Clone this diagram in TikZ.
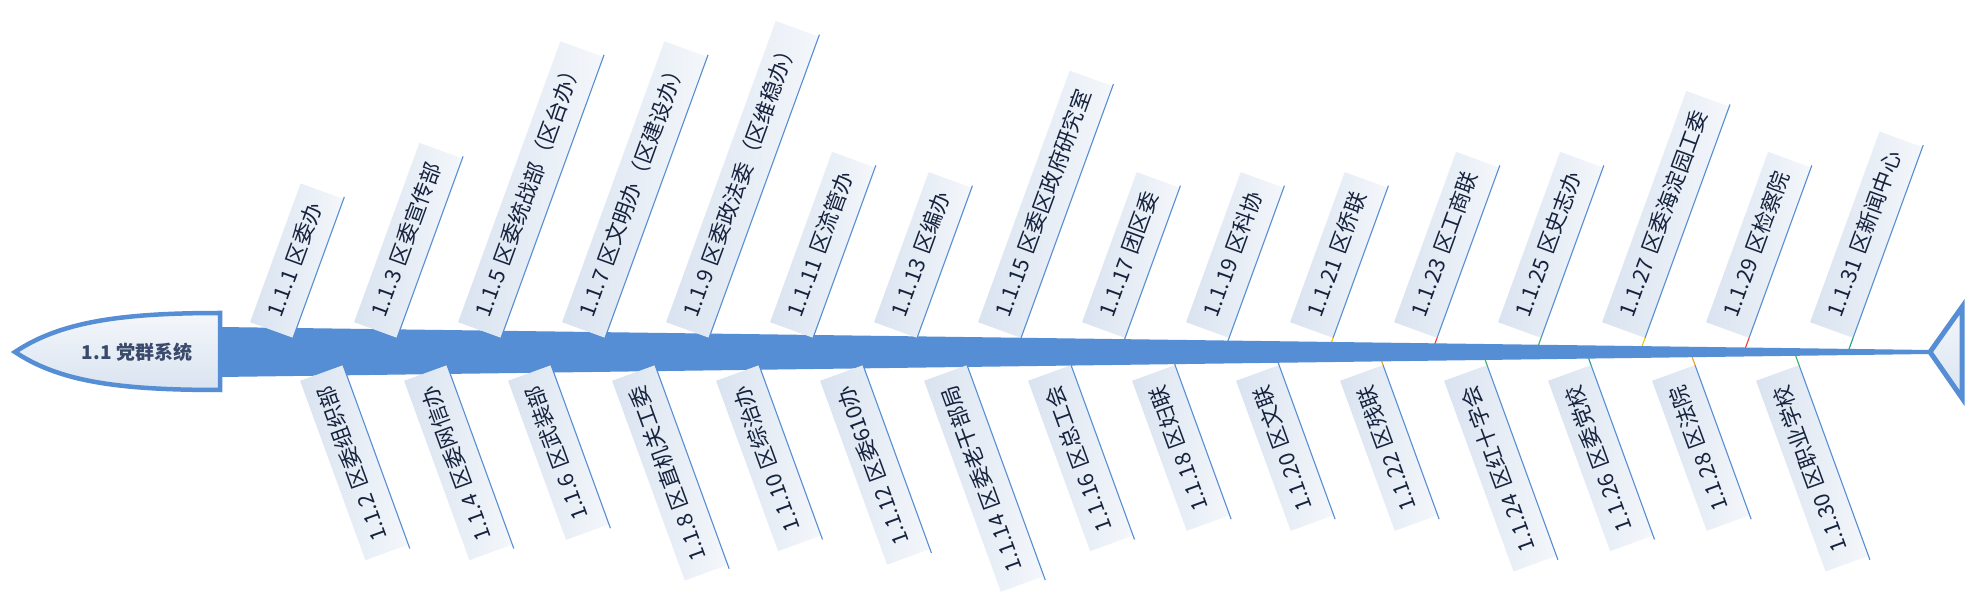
\documentclass[tikz,border=0pt]{standalone}
\usepackage{fontspec}
\setmainfont{Noto Sans CJK SC}
\usetikzlibrary{calc}
\definecolor{spine}{HTML}{558ED5}
\definecolor{boxlight}{HTML}{F4F7FB}
\definecolor{boxdark}{HTML}{D9E3F0}
\definecolor{txt}{HTML}{16233E}
\definecolor{headtxt}{HTML}{3A4A6B}
\definecolor{cy}{HTML}{F2C500}
\definecolor{cr}{HTML}{F03C2C}
\definecolor{cg}{HTML}{34B060}
\definecolor{ct}{HTML}{1E9C86}
\definecolor{co}{HTML}{F59A23}
\pgfdeclarelayer{bglayer}
\pgfdeclarelayer{conn}
\pgfdeclarelayer{spinelayer}
\pgfsetlayers{bglayer,conn,spinelayer,main}
\begin{document}
\begin{tikzpicture}[x=1pt,y=1pt,
  lab/.style={font=\fontsize{21.6}{26}\selectfont, text=txt, inner xsep=14pt, inner ysep=12pt,
    text height=16.5pt, text depth=5pt, left color=boxdark, right color=boxlight},
  upbox/.style={lab, rotate=70, anchor=south west},
  dnbox/.style={lab, rotate=110, anchor=south east},
  edgeline/.style={draw=spine, line width=1.1pt},
  connline/.style={line width=1.1pt},
  shapeline/.style={draw=spine, line width=4.5pt, line join=miter, top color=boxlight, bottom color=boxdark}
]
\begin{pgfonlayer}{bglayer}
  \fill[white] (0,0) rectangle (1980,613);
\end{pgfonlayer}
\useasboundingbox (0,0) rectangle (1980,613);

\begin{pgfonlayer}{spinelayer}
  \fill[spine] (220,286) -- (1930,263) -- (1930,259) -- (220,236) -- cycle;
\end{pgfonlayer}

\path[shapeline] (15,261) .. controls (60,291) and (120,300) .. (220,300)
   -- (220,223) .. controls (120,223) and (60,231) .. (15,261) -- cycle;
\node[font=\fontsize{19}{22}\selectfont\bfseries, text=headtxt] (head) at (137,261) {1.1 党群系统};

\path[shapeline, line width=5pt] (1930,261) -- (1962,306) -- (1962,215) -- cycle;
\node[inner sep=0pt] (tail) at (1951,261) {};

\foreach \n/\t/\c [count=\i from 0] in {
  1/区委办/spine, 3/区委宣传部/spine, 5/区委统战部（区台办）/spine,
  7/区文明办（区建设办）/spine, 9/区委政法委（区维稳办）/spine, 11/区流管办/spine,
  13/区编办/spine, 15/区委区政府研究室/spine, 17/团区委/spine, 19/区科协/spine,
  21/区侨联/cy, 23/区工商联/cr, 25/区史志办/cg, 27/区委海淀园工委/cy,
  29/区检察院/cr, 31/区新闻中心/ct} {
  \node[upbox] (u\n) at (293+104*\i, 275) {1.1.\n{}\hspace{0.32em}\t};
  \draw[edgeline] ($(u\n.south east)!-2pt!(u\n.south west)$) -- (u\n.south west);
  \begin{pgfonlayer}{conn}
    \draw[connline, \c] (u\n.south west) -- ++(250:16);
  \end{pgfonlayer}
}

\foreach \n/\t/\c [count=\i from 0] in {
  2/区委组织部/spine, 4/区委网信办/spine, 6/区武装部/spine, 8/区直机关工委/spine,
  10/区综治办/spine, 12/区委610办/spine, 14/区委老干部局/spine, 16/区总工会/spine,
  18/区妇联/spine, 20/区文联/spine, 22/区残联/co, 24/区红十字会/cg,
  26/区委党校/ct, 28/区法院/co, 30/区职业学校/cg} {
  \node[dnbox] (l\n) at (343+104*\i, 248) {1.1.\n{}\hspace{0.32em}\t};
  \draw[edgeline] (l\n.south east) -- ($(l\n.south west)!-4pt!(l\n.south east)$);
  \begin{pgfonlayer}{conn}
    \draw[connline, \c] (l\n.south east) -- ++(110:16);
  \end{pgfonlayer}
}
\end{tikzpicture}
\end{document}
